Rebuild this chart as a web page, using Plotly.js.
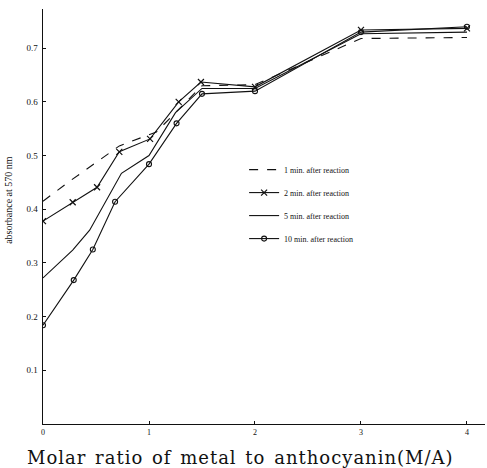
<!DOCTYPE html>
<html>
<head>
<meta charset="utf-8">
<script src="https://cdn.plot.ly/plotly-3.0.1.min.js"></script>
<style>
html,body{margin:0;padding:0;background:#fff;}
#chart{width:487px;height:468px;}
#chart .annotation[data-index="0"] .annotation-text{letter-spacing:1px;word-spacing:2px;}
</style>
</head>
<body>
<div id="chart"></div>
<script>
// Molar ratio (M/A) values
const ratio1 = [0, 0.25, 0.5, 0.72, 1.07, 1.3, 1.5, 2, 3, 4];
const min1 = [0.415, 0.452, 0.487, 0.518, 0.544, 0.59, 0.63, 0.632, 0.718, 0.72];

const ratio2 = [0, 0.28, 0.51, 0.72, 1.01, 1.28, 1.49, 2, 3, 4];
const min2 = [0.378, 0.413, 0.441, 0.507, 0.531, 0.60, 0.637, 0.628, 0.734, 0.737];

const ratio5 = [0, 0.28, 0.44, 0.74, 1.0, 1.25, 1.5, 2, 3, 4];
const min5 = [0.272, 0.324, 0.361, 0.467, 0.50, 0.58, 0.625, 0.625, 0.727, 0.73];

const ratio10 = [0, 0.29, 0.47, 0.68, 1.0, 1.26, 1.5, 2, 3, 4];
const min10 = [0.184, 0.268, 0.325, 0.414, 0.484, 0.56, 0.615, 0.62, 0.73, 0.74];

const seriesNames = ["1 min. after reaction", "2 min. after reaction", "5 min. after reaction", "10 min. after reaction"];
const xTitle = "Molar ratio of metal to anthocyanin(M/A)";
const yTitle = "absorbance at 570 nm";
const xTicks = [0, 1, 2, 3, 4];
const xTickText = ["0", "1", "2", "3", "4"];
const yTicks = [0.1, 0.2, 0.3, 0.4, 0.5, 0.6, 0.7];
const yTickText = ["0.1", "0.2", "0.3", "0.4", "0.5", "0.6", "0.7"];

const serif = "Liberation Serif, Times New Roman, serif";
const wideSerif = "DejaVu Serif, serif";
const ink = "#111";

const traces = [
  {x: ratio1, y: min1, name: seriesNames[0], mode: "lines", legendgroup: "a",
   line: {color: ink, width: 1.1, dash: "dash"}},
  {x: ratio2, y: min2, name: seriesNames[1], mode: "lines+markers", legendgroup: "b",
   line: {color: ink, width: 1.1}, marker: {symbol: "x-thin-open", size: 6, color: ink, line: {color: ink, width: 1.2}}},
  {x: ratio5, y: min5, name: seriesNames[2], mode: "lines", legendgroup: "c",
   line: {color: ink, width: 1.1}},
  {x: ratio10, y: min10, name: seriesNames[3], mode: "lines+markers", legendgroup: "d",
   line: {color: ink, width: 1.1}, marker: {symbol: "circle-open", size: 5, color: ink, line: {color: ink, width: 1.1}}}
];

const layout = {
  width: 487, height: 468,
  margin: {l: 43, r: 2, t: 9, b: 44},
  paper_bgcolor: "#fff", plot_bgcolor: "#fff",
  showlegend: true,
  legend: {x: 0.455, y: 0.648, xanchor: "left", yanchor: "top",
    font: {family: serif, size: 8, color: ink}, bgcolor: "rgba(0,0,0,0)",
    tracegroupgap: 4, traceorder: "grouped", itemwidth: 30},
  xaxis: {range: [0, 4.17], showgrid: false, zeroline: false, showline: true, linecolor: ink, linewidth: 1.4,
    tickmode: "array", tickvals: xTicks, ticktext: xTickText, ticks: "inside", ticklen: 3, tickcolor: ink,
    tickfont: {family: serif, size: 8, color: ink}},
  yaxis: {range: [0, 0.773], showgrid: false, zeroline: false, showline: true, linecolor: ink, linewidth: 1.4,
    tickmode: "array", tickvals: yTicks, ticktext: yTickText, ticks: "inside", ticklen: 3, tickcolor: ink,
    ticklabelstandoff: 2,
    tickfont: {family: serif, size: 9, color: ink}},
  annotations: [
    {text: xTitle, xref: "paper", yref: "paper", x: 0.446, y: -0.08,
     showarrow: false, font: {family: wideSerif, size: 18, color: ink}, xanchor: "center", yanchor: "middle"},
    {text: yTitle, xref: "paper", yref: "paper", x: -0.077, y: 0.54, textangle: -90,
     showarrow: false, font: {family: serif, size: 10, color: ink}, xanchor: "center", yanchor: "middle"}
  ]
};

Plotly.newPlot("chart", traces, layout, {displayModeBar: false, staticPlot: true});
</script>
</body>
</html>
